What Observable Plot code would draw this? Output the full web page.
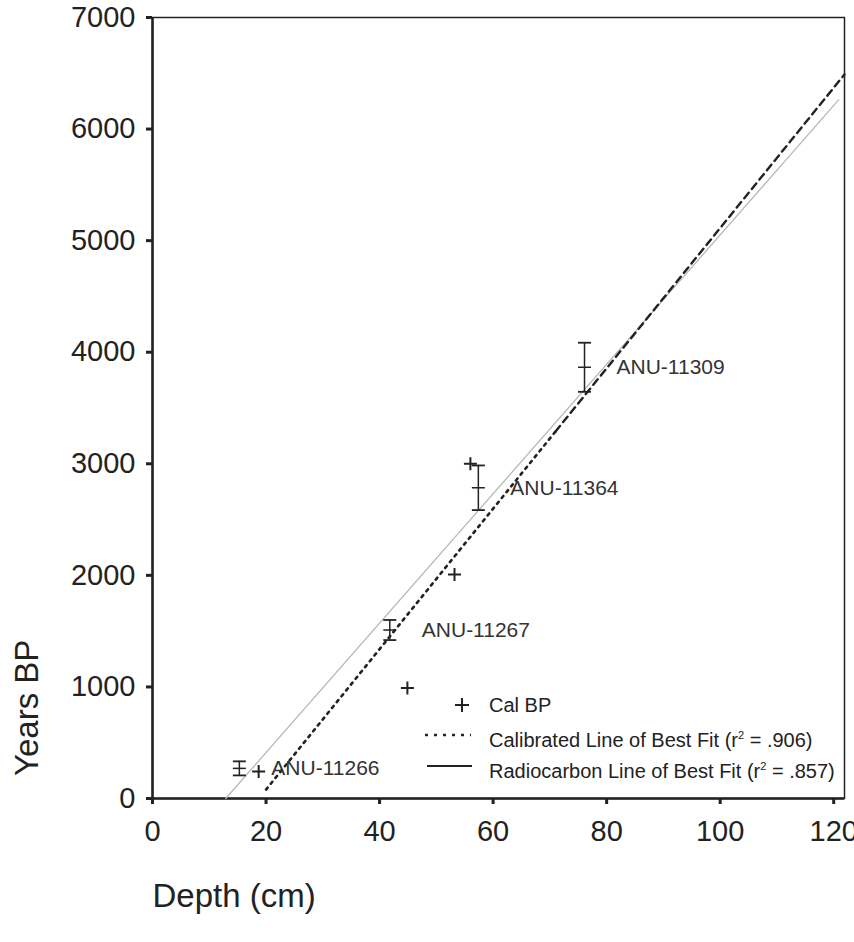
<!DOCTYPE html>
<html>
<head>
<meta charset="utf-8">
<script src="https://cdn.jsdelivr.net/npm/d3@7"></script>
<script src="https://cdn.jsdelivr.net/npm/@observablehq/plot@0.6"></script>
<style>
  html, body { margin: 0; padding: 0; background: #fff; }
  #wrap { position: relative; width: 854px; height: 942px; font-family: "Liberation Sans", Arial, sans-serif; color: #222; }
  #legend { position: absolute; left: 420px; top: 690px; font-size: 20px; }
  .row { position: absolute; left: 0; height: 30px; white-space: nowrap; }
  .row svg { position: absolute; left: 0; top: 0; }
  .row span { position: absolute; left: 69px; top: 3px; line-height: 24px; }
  sup { font-size: 11px; vertical-align: 8px; }
</style>
</head>
<body>
<div id="wrap">
  <div id="chart"></div>
  <div id="legend">
    <div class="row" style="top:0px"><svg width="60" height="30"><path d="M35,15H49M42,8V22" stroke="#222" stroke-width="2"/></svg><span>Cal BP</span></div>
    <div class="row" style="top:30px"><svg width="60" height="30"><path d="M5,15H51" stroke="#222" stroke-width="2.5" stroke-dasharray="3,6"/></svg><span>Calibrated Line of Best Fit (r<sup>2</sup> = .906)</span></div>
    <div class="row" style="top:61px"><svg width="60" height="30"><path d="M7,15H52" stroke="#222" stroke-width="2"/></svg><span>Radiocarbon Line of Best Fit (r<sup>2</sup> = .857)</span></div>
  </div>
</div>
<script>
// Radiocarbon dates (with 1-sigma error bars)
const labIds   = ["ANU-11266", "ANU-11267", "ANU-11364", "ANU-11309"];
const c14Depth = [15.3, 41.8, 57.4, 76.1];
const c14Age   = [270, 1510, 2785, 3865];
const c14Err   = [63, 90, 200, 220];

// Calibrated ages (Cal BP)
const calDepth = [18.7, 44.9, 53.2, 56.0];
const calAge   = [242, 990, 2007, 3000];

// Calibrated line of best fit (r2 = .906): dotted part then dashed part
const calFitDepthA = [20, 71];
const calFitAgeA   = [80, 3290];
const calFitDepthB = [71, 121.9];
const calFitAgeB   = [3290, 6490];

// Radiocarbon line of best fit (r2 = .857)
const c14FitDepth = [12.9, 120.9];
const c14FitAge   = [0, 6264];

// Ticks
const xTicks = [0, 20, 40, 60, 80, 100, 120];
const yTicks = [0, 1000, 2000, 3000, 4000, 5000, 6000, 7000];

const c14 = labIds.map((id, i) => ({id, depth: c14Depth[i], age: c14Age[i], err: c14Err[i]}));
const cal = calDepth.map((d, i) => ({depth: d, age: calAge[i]}));
const fitA = calFitDepthA.map((d, i) => ({depth: d, age: calFitAgeA[i]}));
const fitB = calFitDepthB.map((d, i) => ({depth: d, age: calFitAgeB[i]}));
const fitC = c14FitDepth.map((d, i) => ({depth: d, age: c14FitAge[i]}));

const hline = {draw(ctx, size) { const r = Math.sqrt(size / Math.PI); ctx.moveTo(-r, 0); ctx.lineTo(r, 0); }};
const plus = {draw(ctx, size) { const r = Math.sqrt(size / Math.PI); ctx.moveTo(-r, 0); ctx.lineTo(r, 0); ctx.moveTo(0, -r); ctx.lineTo(0, r); }};

const ink = "#222";

const chart = Plot.plot({
  width: 854,
  height: 942,
  marginLeft: 152,
  marginRight: 10,
  marginTop: 17,
  marginBottom: 144,
  style: {fontFamily: "'Liberation Sans', Arial, sans-serif", fontSize: "29px", color: ink, background: "#fff"},
  x: {domain: [0, 121.9], ticks: xTicks, tickFormat: d3.format("d"), tickSize: 6, tickPadding: 16, label: null},
  y: {domain: [0, 7000], ticks: yTicks, tickFormat: d3.format("d"), tickSize: 6, tickPadding: 11, label: null},
  marks: [
    Plot.frame({stroke: ink, strokeWidth: 1.5}),
    Plot.ruleX([0], {stroke: ink, strokeWidth: 2.5}),
    Plot.ruleY([0], {stroke: ink, strokeWidth: 2.5}),
    Plot.line(fitC, {x: "depth", y: "age", stroke: "#b8b8b8", strokeWidth: 1.3}),
    Plot.line(fitA, {x: "depth", y: "age", stroke: ink, strokeWidth: 2.6, strokeDasharray: "2.5,5"}),
    Plot.line(fitB, {x: "depth", y: "age", stroke: ink, strokeWidth: 2.4, strokeDasharray: "7,5"}),
    Plot.ruleX(c14, {x: "depth", y1: d => d.age - d.err, y2: d => d.age + d.err, stroke: ink, strokeWidth: 1.5}),
    Plot.dot(c14, {x: "depth", y: d => d.age - d.err, symbol: hline, r: 6.5, stroke: ink, strokeWidth: 1.8}),
    Plot.dot(c14, {x: "depth", y: d => d.age + d.err, symbol: hline, r: 6.5, stroke: ink, strokeWidth: 1.8}),
    Plot.dot(c14, {x: "depth", y: "age", symbol: hline, r: 6.5, stroke: ink, strokeWidth: 1.5}),
    Plot.dot(cal, {x: "depth", y: "age", symbol: plus, r: 6.5, stroke: ink, strokeWidth: 2}),
    Plot.text(c14, {x: "depth", y: "age", text: "id", dx: 32, textAnchor: "start", fontSize: 21, fill: "#333"}),
    Plot.text(["Years BP"], {frameAnchor: "left", rotate: -90, dx: -125, dy: 368, fontSize: 33, fill: ink}),
    Plot.text(["Depth (cm)"], {frameAnchor: "bottom-left", textAnchor: "start", dx: 0, dy: 108, fontSize: 33, fill: ink})
  ]
});

// thicken the axis tick marks
chart.querySelectorAll('g[aria-label^="x-axis"] line, g[aria-label^="x-axis"] path, g[aria-label^="y-axis"] line, g[aria-label^="y-axis"] path')
  .forEach(el => { el.setAttribute("stroke-width", "3"); el.style.strokeWidth = "3px"; });

document.getElementById("chart").appendChild(chart);
</script>
</body>
</html>
